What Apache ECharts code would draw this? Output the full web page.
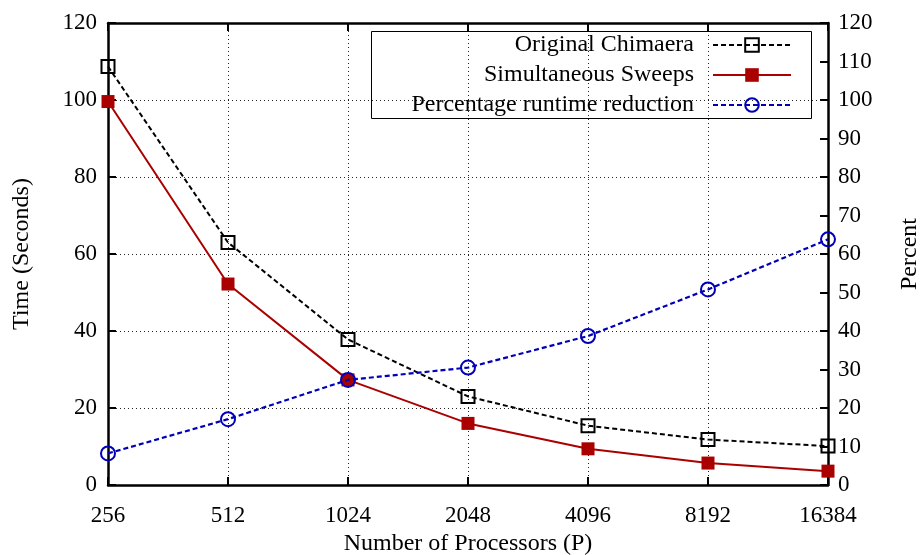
<!DOCTYPE html>
<html>
<head>
<meta charset="utf-8">
<script src="https://cdn.jsdelivr.net/npm/echarts@6/dist/echarts.min.js"></script>
<style>
  html, body { margin: 0; padding: 0; background: #fff; }
  #chart { width: 921px; height: 555px; }
</style>
</head>
<body>
<div id="chart"></div>
<script>
// Processor counts on the x axis
const processors = ['256', '512', '1024', '2048', '4096', '8192', '16384'];
// Run times in seconds
const originalChimaera = [108.7, 63.0, 37.8, 23.0, 15.4, 11.8, 10.1];
const simultaneousSweeps = [99.6, 52.2, 27.3, 16.0, 9.4, 5.7, 3.6];
// Runtime reduction in percent (right axis)
const runtimeReduction = [8.2, 17.1, 27.3, 30.5, 38.7, 50.8, 63.8];

const FONT = 'Liberation Serif';
const RED = '#aa0000';
const BLUE = '#0000b8';
const gridDots = { show: true, lineStyle: { color: '#222', width: 1, type: [1, 3] } };
const frame = { show: true, onZero: false, lineStyle: { color: '#000', width: 2.5 } };
const tickLabel = { color: '#000', fontFamily: FONT, fontSize: 23 };
const titleText = { color: '#000', fontFamily: FONT, fontSize: 24 };
const ticks = { show: true, inside: true, length: 8, lineStyle: { color: '#000', width: 2 } };

const chart = echarts.init(document.getElementById('chart'));

function legendRow(name, top) {
  return {
    data: [name],
    right: 129,
    top: top,
    orient: 'vertical',
    align: 'right',
    padding: 0,
    itemWidth: 78,
    itemHeight: 17,
    selectedMode: false,
    textStyle: { color: '#000', fontFamily: FONT, fontSize: 24, padding: [0, 14, 0, 0] }
  };
}

chart.setOption({
  animation: false,
  backgroundColor: '#fff',
  grid: { left: 108, right: 93, top: 23, bottom: 70, outerBoundsMode: 'none' },
  legend: [
    legendRow('Original Chimaera', 33),
    legendRow('Simultaneous Sweeps', 63),
    legendRow('Percentage runtime reduction', 93)
  ],
  graphic: [{
    type: 'rect',
    z: 100,
    shape: { x: 371.5, y: 31.5, width: 440, height: 87 },
    style: { fill: 'none', stroke: '#000', lineWidth: 1 }
  }],
  xAxis: [{
    type: 'category',
    data: processors,
    boundaryGap: false,
    position: 'bottom',
    axisLine: frame,
    axisTick: ticks,
    axisLabel: Object.assign({ margin: 19 }, tickLabel),
    splitLine: gridDots,
    name: 'Number of Processors (P)',
    nameLocation: 'middle',
    nameGap: 46,
    nameTextStyle: titleText
  }, {
    type: 'category',
    data: processors,
    boundaryGap: false,
    position: 'top',
    axisLine: frame,
    axisTick: ticks,
    axisLabel: { show: false },
    splitLine: { show: false }
  }],
  yAxis: [{
    type: 'value',
    min: 0, max: 120, interval: 20,
    position: 'left',
    axisLine: frame,
    axisTick: ticks,
    axisLabel: Object.assign({ margin: 11 }, tickLabel),
    splitLine: gridDots,
    name: 'Time (Seconds)',
    nameLocation: 'middle',
    nameRotate: 90,
    nameGap: 74,
    nameTextStyle: titleText
  }, {
    type: 'value',
    min: 0, max: 120, interval: 10,
    position: 'right',
    axisLine: frame,
    axisTick: ticks,
    axisLabel: Object.assign({ margin: 10 }, tickLabel),
    splitLine: { show: false },
    name: 'Percent',
    nameLocation: 'middle',
    nameRotate: 90,
    nameGap: 70,
    nameTextStyle: titleText
  }],
  series: [{
    name: 'Original Chimaera',
    type: 'line',
    data: originalChimaera,
    yAxisIndex: 0,
    symbol: 'rect',
    symbolSize: 13,
    showAllSymbol: true,
    lineStyle: { color: '#000', width: 2, type: [5, 3] },
    itemStyle: { color: 'rgba(0,0,0,0)', borderColor: '#000', borderWidth: 2 },
    z: 3
  }, {
    name: 'Simultaneous Sweeps',
    type: 'line',
    data: simultaneousSweeps,
    yAxisIndex: 0,
    symbol: 'rect',
    symbolSize: 13,
    showAllSymbol: true,
    lineStyle: { color: RED, width: 2 },
    itemStyle: { color: RED, borderWidth: 0 },
    z: 4
  }, {
    name: 'Percentage runtime reduction',
    type: 'line',
    data: runtimeReduction,
    yAxisIndex: 1,
    symbol: 'circle',
    symbolSize: 14,
    showAllSymbol: true,
    lineStyle: { color: BLUE, width: 2.2, type: [5, 3] },
    itemStyle: { color: 'rgba(0,0,0,0)', borderColor: BLUE, borderWidth: 2 },
    z: 5
  }]
});
</script>
</body>
</html>
